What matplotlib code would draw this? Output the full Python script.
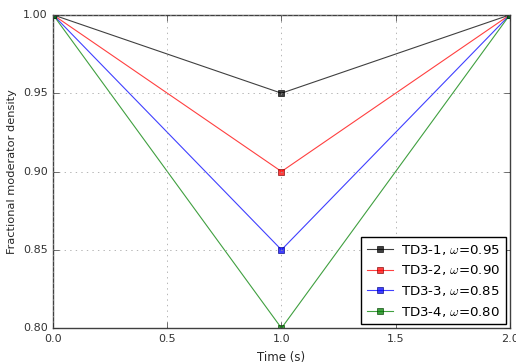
import matplotlib
matplotlib.use('Agg')
import matplotlib.pyplot as plt

plt.style.use('classic')

time = [0.0, 1.0, 2.0]
labels = ['TD3-1', 'TD3-2', 'TD3-3', 'TD3-4']
omegas = [0.95, 0.90, 0.85, 0.80]
colours = ['k', 'r', 'b', 'g']
edges = ['k', '#800000', '#000080', '#004000']

fig = plt.figure(figsize=(5.16, 3.63), dpi=100)
ax = fig.add_axes([0.103, 0.096, 0.885, 0.863])

for lab, om, col, ec in zip(labels, omegas, colours, edges):
    ax.plot(time, [1.0, om, 1.0], color=col, lw=0.8, alpha=0.75,
            marker='s', markersize=5, markeredgecolor=ec,
            markeredgewidth=0.6, label=r'%s, $\omega$=%.2f' % (lab, om))

ax.set_xlim(0, 2)
ax.set_ylim(0.8, 1.0)
ax.set_xticks([0.0, 0.5, 1.0, 1.5, 2.0])
ax.set_yticks([0.80, 0.85, 0.90, 0.95, 1.00])
ax.tick_params(labelsize=8, colors='0.2')
for sp in ax.spines.values():
    sp.set_color('0.25')
ax.grid(True, color='0.6', linestyle=':')
ax.set_xlabel('Time (s)', fontsize=8.5, color='0.15')
ax.set_ylabel('Fractional moderator density', fontsize=8.2, color='0.15',
              labelpad=4)
ax.legend(loc='lower right', fontsize=9.6, numpoints=1,
          borderaxespad=0.3, handletextpad=0.6)

fig.savefig('out.png', dpi=100)
